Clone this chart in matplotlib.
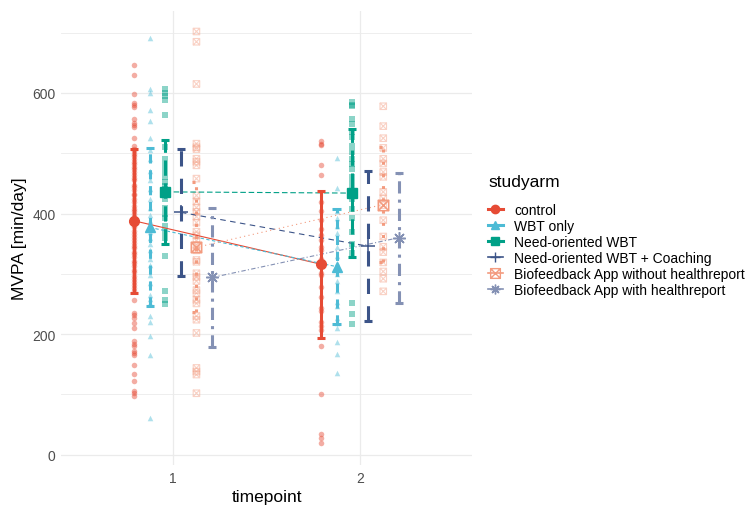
import matplotlib.pyplot as plt
from matplotlib.lines import Line2D
from matplotlib.path import Path

plt.rcParams['font.family'] = ['Liberation Sans', 'DejaVu Sans']

# === Data === #
timepoints = [1, 2]
arms = ['control', 'WBT only', 'Need-oriented WBT', 'Need-oriented WBT + Coaching',
        'Biofeedback App without healthreport', 'Biofeedback App with healthreport']

# group means and standard deviations per timepoint
means = [[388, 316], [377, 312], [436, 434], [402, 346], [344, 415], [294, 360]]
sds = [[119, 122], [131, 95], [86, 106], [105, 124], [108, 95], [115, 108]]

# individual observations, timepoint 1
control_t1 = [646, 630, 598, 583, 580, 576, 557, 551, 547, 543, 525, 512, 507, 503, 499,
              496, 491, 486, 483, 478, 474, 469, 464, 459, 455, 448, 444, 439, 433, 430,
              424, 419, 413, 408, 404, 399, 394, 389, 386, 381, 377, 371, 366, 361, 356,
              352, 347, 343, 337, 333, 328, 322, 318, 313, 307, 303, 297, 292, 287, 281,
              276, 271, 257, 235, 231, 226, 218, 211, 188, 184, 180, 172, 168, 165, 149,
              134, 122, 106, 102, 98]
wbt_t1 = [692, 606, 600, 572, 553, 525, 505, 490, 470, 455, 440, 425, 410, 398, 388, 375,
          370, 360, 350, 339, 325, 314, 298, 285, 265, 258, 251, 230, 221, 197, 166, 61]
need_t1 = [606, 600, 595, 588, 564, 510, 490, 480, 470, 460, 452, 446, 440, 430, 425, 410,
           400, 392, 380, 370, 360, 329, 272, 257, 250]
coach_t1 = [538, 500, 490, 480, 466, 450, 430, 420, 410, 400, 395, 385, 380, 370, 355, 345,
            330, 310, 300, 204, 186]
bfno_t1 = [702, 685, 615, 516, 510, 507, 491, 486, 480, 458, 430, 420, 410, 403, 395, 385,
           370, 364, 355, 348, 339, 323, 320, 301, 295, 288, 273, 268, 257, 251, 230, 224,
           202, 144, 138, 133, 102]
bfhr_t1 = [575, 521, 515, 510, 449, 440, 428, 408, 400, 392, 385, 375, 368, 360, 352, 345,
           338, 330, 322, 315, 310, 302, 296, 290, 285, 280, 272, 265, 258, 250, 245, 238,
           230, 225, 218, 210, 203, 195, 188, 182, 177, 166, 119, 110, 104, 100, 36, 28,
           22, 17]

# individual observations, timepoint 2
control_t2 = [521, 516, 513, 481, 464, 420, 405, 390, 375, 364, 356, 345, 339, 325, 317,
              301, 298, 279, 262, 243, 238, 221, 213, 207, 180, 101, 35, 27, 19]
wbt_t2 = [493, 443, 405, 392, 380, 367, 345, 330, 318, 312, 300, 289, 272, 254, 246, 226,
          218, 210, 187, 167, 135]
need_t2 = [585, 580, 578, 557, 549, 535, 527, 512, 502, 491, 483, 474, 460, 450, 440, 425,
           408, 392, 370, 350, 335, 252, 234, 217]
coach_t2 = [503, 498, 472, 455, 441, 423, 412, 396, 381, 366, 352, 337, 321, 304, 292, 276,
            262, 257, 244, 231, 221, 210]
bfno_t2 = [578, 545, 525, 509, 491, 483, 469, 461, 436, 425, 414, 389, 362, 345, 336, 319,
           304, 292, 271]
bfhr_t2 = [598, 585, 507, 500, 495, 488, 480, 447, 422, 403, 397, 390, 382, 375, 362, 348,
           337, 330, 324, 317, 306, 293, 288, 273, 265, 258, 251, 235, 226, 177, 123, 96]

obs = [[control_t1, control_t2], [wbt_t1, wbt_t2], [need_t1, need_t2],
       [coach_t1, coach_t2], [bfno_t1, bfno_t2], [bfhr_t1, bfhr_t2]]

yticks = [0, 200, 400, 600]

# === Styles === #
colors = ['#E64B35', '#4DBBD5', '#00A087', '#3C5488', '#F39B7F', '#8491B4']
boxx = Path([(-1, -1), (1, -1), (1, 1), (-1, 1), (-1, -1), (-1, -1), (1, 1), (-1, 1), (1, -1)],
            [Path.MOVETO, Path.LINETO, Path.LINETO, Path.LINETO, Path.CLOSEPOLY,
             Path.MOVETO, Path.LINETO, Path.MOVETO, Path.LINETO])
markers = ['o', '^', 's', '+', boxx, (8, 2, 0)]
filled = [True, True, True, False, False, False]
mean_ms = [7, 7.5, 7, 10, 7.5, 9]
styles = ['-', (0, (3, 2.2)), (0, (5, 2.5)), (0, (5, 4)), (0, (1, 3)), (0, (4, 2, 1, 2))]
dodge = 0.5 / 6

fig = plt.figure(figsize=(7.46, 5.06), dpi=100)
ax = fig.add_axes([61 / 746, 1 - 466 / 506, 411 / 746, 454 / 506])

for k, (arm, c) in enumerate(zip(arms, colors)):
    off = (k - 2.5) * dodge
    xs = [t + off for t in timepoints]
    mk = markers[k]
    # raw observations
    for t, vals in zip(xs, obs[k]):
        if filled[k]:
            ax.scatter([t] * len(vals), vals, s=16, marker=mk, color=c, alpha=0.45,
                       linewidths=0, zorder=2)
        else:
            ax.scatter([t] * len(vals), vals, s=22, marker=mk, facecolors='none',
                       edgecolors=c, alpha=0.45, linewidths=0.8, zorder=2)
    # connecting line
    ax.plot(xs, means[k], color=c, lw=0.8, ls=styles[k], zorder=3)
    # error bars
    for t, m, s in zip(xs, means[k], sds[k]):
        ax.plot([t, t], [m - s, m + s], color=c, lw=2.2, ls=styles[k],
                solid_capstyle='butt', zorder=4)
        for y in (m - s, m + s):
            ax.plot([t - 0.022, t + 0.022], [y, y], color=c, lw=2.2, ls=styles[k],
                    zorder=4, solid_capstyle='butt')
    # means
    if filled[k]:
        ax.plot(xs, means[k], ls='none', marker=mk, ms=mean_ms[k], color=c, zorder=5)
    else:
        ax.plot(xs, means[k], ls='none', marker=mk, ms=mean_ms[k], mfc='none', mec=c,
                mew=1.1, zorder=5)

ax.set_xlim(0.40, 2.60)
ax.set_ylim(-17, 736)
ax.set_xticks(timepoints)
ax.set_yticks(yticks)
ax.set_yticks([100, 300, 500, 700], minor=True)
ax.grid(which='major', color='#EBEBEB', lw=0.9)
ax.grid(which='minor', axis='y', color='#EBEBEB', lw=0.6)
ax.set_axisbelow(True)
for sp in ax.spines.values():
    sp.set_visible(False)
ax.tick_params(which='both', length=0, labelsize=10, labelcolor='#4D4D4D', pad=4)
ax.set_xlabel('timepoint', fontsize=12.5, labelpad=3)
ax.set_ylabel('MVPA [min/day]', fontsize=12.5, labelpad=4)

# === Legend === #
handles = []
for k, c in enumerate(colors):
    if filled[k]:
        h = Line2D([], [], color=c, lw=2.2, ls='-', marker=markers[k], ms=6)
    else:
        h = Line2D([], [], color=c, lw=1.2, ls='-', marker=markers[k], ms=7,
                   mfc='none', mec=c, mew=1.0)
    handles.append(h)
fig.text(488 / 746, 1 - 183 / 506, 'studyarm', fontsize=12.5, va='center', ha='left')
fig.legend(handles, arms, loc='upper left', bbox_to_anchor=(482 / 746, 1 - 198 / 506),
           frameon=False, fontsize=10, handlelength=1.1, handletextpad=0.8,
           labelspacing=0.15, borderaxespad=0)

fig.savefig('out.png', dpi=100)
